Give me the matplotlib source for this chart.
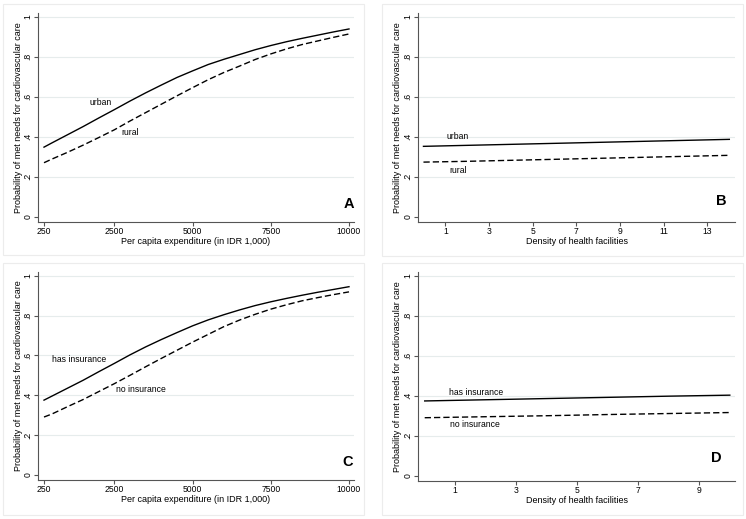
import matplotlib
matplotlib.use("Agg")
import matplotlib.pyplot as plt
from matplotlib.patches import Rectangle

# ---------------- data ----------------
exp_x = [250, 500, 1000, 1500, 2000, 2500, 3000, 3500, 4000, 4500, 5000,
         5500, 6000, 6500, 7000, 7500, 8000, 8500, 9000, 9500, 10000]
a_urban = [0.348, 0.369, 0.410, 0.451, 0.494, 0.536, 0.579, 0.620, 0.659, 0.697, 0.730,
           0.762, 0.788, 0.812, 0.836, 0.857, 0.876, 0.893, 0.909, 0.925, 0.940]
a_rural = [0.270, 0.288, 0.322, 0.358, 0.396, 0.435, 0.479, 0.521, 0.563, 0.605, 0.646,
           0.686, 0.722, 0.754, 0.787, 0.815, 0.840, 0.862, 0.880, 0.898, 0.915]
c_has = [0.375, 0.395, 0.435, 0.475, 0.518, 0.560, 0.603, 0.643, 0.680, 0.715, 0.749,
         0.779, 0.805, 0.829, 0.851, 0.870, 0.887, 0.903, 0.918, 0.932, 0.946]
c_no = [0.290, 0.305, 0.342, 0.378, 0.418, 0.458, 0.500, 0.543, 0.585, 0.626, 0.667,
        0.706, 0.745, 0.778, 0.807, 0.833, 0.855, 0.875, 0.891, 0.906, 0.920]

b_x = [0, 2, 4, 6, 8, 10, 12, 14]
b_urban = [0.352, 0.357, 0.362, 0.367, 0.372, 0.377, 0.382, 0.387]
b_rural = [0.273, 0.277, 0.282, 0.287, 0.292, 0.297, 0.302, 0.307]

d_x = [0, 2, 4, 6, 8, 10]
d_has = [0.374, 0.380, 0.386, 0.392, 0.398, 0.403]
d_no = [0.290, 0.295, 0.300, 0.306, 0.311, 0.316]

exp_ticks = [250, 2500, 5000, 7500, 10000]
b_ticks = [1, 3, 5, 7, 9, 11, 13]
d_ticks = [1, 3, 5, 7, 9]
y_ticks = [0, 0.2, 0.4, 0.6, 0.8, 1.0]
y_ticklabels = ["0", ".2", ".4", ".6", ".8", "1"]

ylabel = "Probability of met needs for cardiovascular care"
xlabel_exp = "Per capita expenditure (in IDR 1,000)"
xlabel_den = "Density of health facilities"

# ---------------- style ----------------
plt.rcParams['font.family'] = ['Liberation Sans', 'DejaVu Sans']
W, H = 746, 519
fig = plt.figure(figsize=(W / 100, H / 100), dpi=100)
fig.patch.set_facecolor('white')

SP = '#555555'
GRID = '#e6ecec'
FS = 6.2
YFS = 6.5
LFS = 10.5


def px_axes(left, right, top, bottom):
    return fig.add_axes([left / W, 1 - bottom / H, (right - left) / W, (bottom - top) / H])


# panel boxes
for (x0, y0, x1, y1) in [(3, 4, 364, 255), (382, 4, 743, 256), (3, 263, 364, 515), (382, 263, 743, 515)]:
    fig.patches.append(Rectangle((x0 / W, 1 - y1 / H), (x1 - x0) / W, (y1 - y0) / H,
                                 transform=fig.transFigure, fill=False,
                                 edgecolor='#ececec', lw=0.8))


def style(ax, xlim, xticks, xlabel):
    ax.set_xlim(*xlim)
    ax.set_ylim(-0.027, 1.02)
    ax.set_xticks(xticks)
    ax.set_xticklabels([str(t) for t in xticks])
    ax.set_yticks(y_ticks)
    ax.set_yticklabels(y_ticklabels)
    for s in ['top', 'right']:
        ax.spines[s].set_visible(False)
    for s in ['left', 'bottom']:
        ax.spines[s].set_color(SP)
        ax.spines[s].set_linewidth(0.8)
    ax.tick_params(axis='both', direction='out', length=3, width=0.8, color=SP,
                   labelsize=FS)
    ax.tick_params(axis='x', pad=0.8)
    ax.tick_params(axis='y', labelrotation=90, pad=1.0)
    for lab in ax.get_yticklabels():
        lab.set_va('center')
    for yv in y_ticks[1:]:
        ax.axhline(yv, color=GRID, lw=0.8, zorder=0)
    ax.set_ylabel(ylabel, fontsize=YFS)
    ax.yaxis.set_label_coords(-0.049, 0.5)
    ax.set_xlabel(xlabel, fontsize=YFS)
    ax.xaxis.set_label_coords(0.5, -0.070)


def lines(ax, x, s1, s2):
    ax.plot(x, s1, color='black', lw=1.0, zorder=3)
    l, = ax.plot(x, s2, color='black', lw=1.0, zorder=3)
    l.set_dashes((4.5, 2.2))


# Panel A
axA = px_axes(38, 354, 13, 222)
style(axA, (58, 10160), exp_ticks, xlabel_exp)
lines(axA, exp_x, a_urban, a_rural)
axA.text(2062, 0.572, "urban", fontsize=FS, ha='center', va='center')
axA.text(2999, 0.421, "rural", fontsize=FS, ha='center', va='center')
axA.text(10000, 0.063, "A", fontsize=LFS, fontweight='bold', ha='center', va='center')

# Panel B
axB = px_axes(418, 735, 13, 222)
style(axB, (-0.25, 14.26), b_ticks, xlabel_den)
lines(axB, b_x, b_urban, b_rural)
axB.text(1.58, 0.40, "urban", fontsize=FS, ha='center', va='center')
axB.text(1.58, 0.232, "rural", fontsize=FS, ha='center', va='center')
axB.text(13.62, 0.08, "B", fontsize=LFS, fontweight='bold', ha='center', va='center')

# Panel C
axC = px_axes(38, 354, 272, 480)
style(axC, (58, 10160), exp_ticks, xlabel_exp)
lines(axC, exp_x, c_has, c_no)
axC.text(1359, 0.582, "has insurance", fontsize=FS, ha='center', va='center')
axC.text(3341, 0.431, "no insurance", fontsize=FS, ha='center', va='center')
axC.text(9960, 0.066, "C", fontsize=LFS, fontweight='bold', ha='center', va='center')

# Panel D
axD = px_axes(418, 735, 272, 481)
style(axD, (-0.22, 10.17), d_ticks, xlabel_den)
lines(axD, d_x, d_has, d_no)
axD.text(1.69, 0.416, "has insurance", fontsize=FS, ha='center', va='center')
axD.text(1.64, 0.258, "no insurance", fontsize=FS, ha='center', va='center')
axD.text(9.57, 0.086, "D", fontsize=LFS, fontweight='bold', ha='center', va='center')

fig.savefig("out.png", dpi=100)
